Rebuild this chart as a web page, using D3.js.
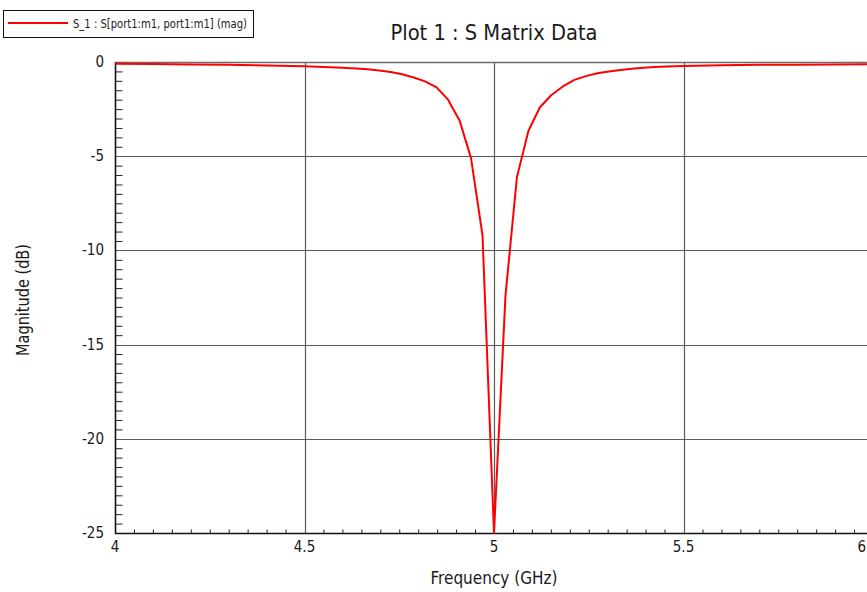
<!DOCTYPE html>
<html>
<head>
<meta charset="utf-8">
<script src="https://cdn.jsdelivr.net/npm/d3@7"></script>
<style>
  html, body { margin: 0; padding: 0; background: #fff; }
  svg { display: block; }
  text { font-family: "DejaVu Sans Condensed", "Liberation Sans Narrow", "DejaVu Sans", sans-serif; fill: #1a1a1a; }
</style>
</head>
<body>
<svg id="chart" width="867" height="592"></svg>
<script>
// S11 magnitude of port 1, sampled across 4–6 GHz
const freqGHz = [
  4.0, 4.1, 4.2, 4.3, 4.4, 4.5, 4.55, 4.6, 4.6364, 4.6667, 4.697, 4.7273,
  4.7576, 4.7879, 4.8182, 4.8485, 4.8788, 4.9091, 4.9394, 4.9697, 5.0,
  5.0303, 5.0606, 5.0909, 5.1212, 5.1515, 5.1818, 5.2121, 5.2424, 5.2727,
  5.303, 5.3333, 5.3636, 5.3939, 5.4242, 5.4545, 5.5, 5.6, 5.7, 5.8, 5.9, 6.0
];
const magDB = [
  -0.09, -0.11, -0.13, -0.15, -0.19, -0.22, -0.26, -0.31, -0.35, -0.39, -0.45, -0.53,
  -0.65, -0.82, -1.03, -1.35, -2.0, -3.1, -5.1, -9.2, -25.0,
  -12.4, -6.1, -3.65, -2.4, -1.75, -1.3, -0.95, -0.75, -0.6,
  -0.5, -0.42, -0.36, -0.31, -0.27, -0.24, -0.21, -0.17, -0.15, -0.14, -0.13, -0.12
];

const xMajorTicks = [4, 4.5, 5, 5.5, 6];
const xTickLabels = ["4", "4.5", "5", "5.5", "6"];
const yMajorTicks = [0, -5, -10, -15, -20, -25];
const yTickLabels = ["0", "-5", "-10", "-15", "-20", "-25"];

const titleText = "Plot 1 : S Matrix Data";
const legendText = "S_1 : S[port1:m1, port1:m1] (mag)";
const xLabel = "Frequency (GHz)";
const yLabel = "Magnitude (dB)";

const svg = d3.select("#chart");
const W = 867, H = 592;
const plot = { left: 115, top: 62, right: 873, bottom: 533 };

const x = d3.scaleLinear().domain([4, 6]).range([plot.left, plot.right]);
const y = d3.scaleLinear().domain([-25, 0]).range([plot.bottom, plot.top]);

const gridColor = "#5a5a5a";

// grid lines at major ticks
const grid = svg.append("g");
grid.selectAll("line.vx")
  .data(xMajorTicks.filter(d => d > 4 && d < 6))
  .join("line")
  .attr("x1", d => Math.round(x(d)) + 0.5).attr("x2", d => Math.round(x(d)) + 0.5)
  .attr("y1", plot.top).attr("y2", plot.bottom)
  .attr("stroke", gridColor).attr("stroke-width", 1.2);
grid.selectAll("line.hy")
  .data(yMajorTicks.filter(d => d < 0 && d > -25))
  .join("line")
  .attr("x1", plot.left).attr("x2", W)
  .attr("y1", d => Math.round(y(d)) + 0.5).attr("y2", d => Math.round(y(d)) + 0.5)
  .attr("stroke", gridColor).attr("stroke-width", 1.2);
// top frame line
svg.append("line")
  .attr("x1", plot.left).attr("x2", W)
  .attr("y1", plot.top + 0.5).attr("y2", plot.top + 0.5)
  .attr("stroke", "#6a6a6a").attr("stroke-width", 1.4);

// minor ticks (0.05 GHz, 0.5 dB), pointing into the plot
const xMinor = d3.range(0, 41).map(i => 4 + i * 0.05).filter(v => Math.abs(v * 2 - Math.round(v * 2)) > 1e-6);
const yMinor = d3.range(0, 51).map(i => -25 + i * 0.5).filter(v => Math.abs(v / 5 - Math.round(v / 5)) > 1e-6);

const xAxis = d3.axisBottom(x).tickValues(xMinor).tickSize(-4).tickFormat("");
const gx = svg.append("g").attr("transform", `translate(0,${plot.bottom + 0.5})`).call(xAxis);
gx.select(".domain").remove();
gx.selectAll(".tick line").attr("stroke", "#222");

const yAxis = d3.axisLeft(y).tickValues(yMinor).tickSize(-7).tickFormat("");
const gy = svg.append("g").attr("transform", `translate(${plot.left + 0.5},0)`).call(yAxis);
gy.select(".domain").remove();
gy.selectAll(".tick line").attr("stroke", "#222");

// axis lines
svg.append("line").attr("x1", plot.left + 0.5).attr("x2", plot.left + 0.5)
  .attr("y1", plot.top).attr("y2", plot.bottom + 1).attr("stroke", "#111").attr("stroke-width", 1.6);
svg.append("line").attr("x1", plot.left).attr("x2", W)
  .attr("y1", plot.bottom + 0.5).attr("y2", plot.bottom + 0.5).attr("stroke", "#111").attr("stroke-width", 1.6);

// tick labels
svg.append("g").selectAll("text")
  .data(xMajorTicks)
  .join("text")
  .attr("x", (d, i) => Math.min(x(d), W - 1))
  .attr("y", 552)
  .attr("text-anchor", (d) => x(d) > W - 5 ? "end" : "middle")
  .attr("font-size", 15)
  .text((d, i) => xTickLabels[i]);

svg.append("g").selectAll("text")
  .data(yMajorTicks)
  .join("text")
  .attr("x", 104)
  .attr("y", d => y(d) + 5)
  .attr("text-anchor", "end")
  .attr("font-size", 15)
  .text((d, i) => yTickLabels[i]);

// data curve
const line = d3.line().x((d, i) => x(freqGHz[i])).y(d => y(d));
svg.append("path")
  .datum(magDB)
  .attr("d", line)
  .attr("fill", "none")
  .attr("stroke", "#ff0000")
  .attr("stroke-width", 2)
  .attr("stroke-linejoin", "round");

// title and axis labels
svg.append("text").attr("x", 494).attr("y", 40).attr("text-anchor", "middle")
  .attr("font-size", 21).attr("textLength", 207).attr("lengthAdjust", "spacingAndGlyphs").text(titleText);
svg.append("text").attr("x", 494).attr("y", 584).attr("text-anchor", "middle")
  .attr("font-size", 17).attr("textLength", 127).attr("lengthAdjust", "spacingAndGlyphs").text(xLabel);
svg.append("text").attr("transform", "translate(29,300) rotate(-90)").attr("text-anchor", "middle")
  .attr("font-size", 17).attr("textLength", 112).attr("lengthAdjust", "spacingAndGlyphs").text(yLabel);

// legend
const lg = svg.append("g");
lg.append("rect").attr("x", 3.5).attr("y", 10.5).attr("width", 250).attr("height", 27)
  .attr("fill", "#fff").attr("stroke", "#111").attr("stroke-width", 1);
lg.append("line").attr("x1", 8).attr("x2", 68).attr("y1", 23).attr("y2", 23)
  .attr("stroke", "#ff0000").attr("stroke-width", 2);
lg.append("text").attr("x", 73).attr("y", 28).attr("font-size", 13)
  .attr("textLength", 174).attr("lengthAdjust", "spacingAndGlyphs").text(legendText);
</script>
</body>
</html>
